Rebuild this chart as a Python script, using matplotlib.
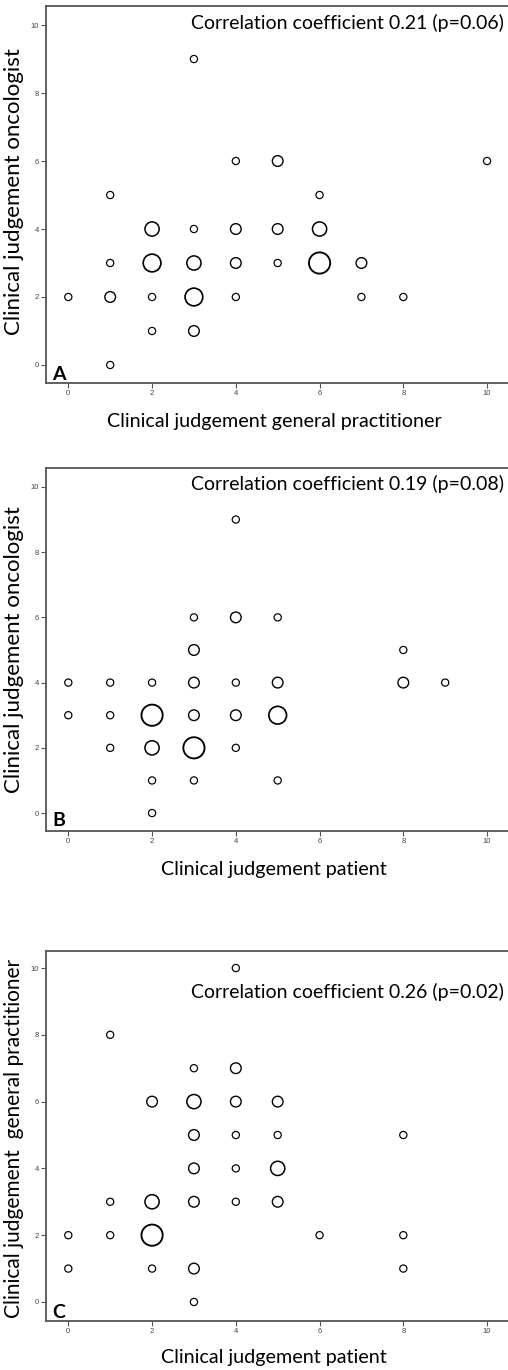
import matplotlib
matplotlib.use("Agg")
import matplotlib.pyplot as plt
import numpy as np

# ---------------- data ----------------
# Panel A: x = GP judgement, y = oncologist judgement, n = number of patients
a_x = [0, 1, 1, 1, 1, 2, 2, 2, 2, 3, 3, 3, 3, 3, 4, 4, 4, 4, 5, 5, 5, 6, 6, 6, 7, 7, 8, 10]
a_y = [2, 5, 3, 2, 0, 4, 3, 2, 1, 9, 4, 3, 2, 1, 6, 4, 3, 2, 6, 4, 3, 5, 4, 3, 3, 2, 2, 6]
a_n = [1, 1, 1, 2, 1, 3, 4, 1, 1, 1, 1, 3, 4, 2, 1, 2, 2, 1, 2, 2, 1, 1, 3, 5, 2, 1, 1, 1]

# Panel B: x = patient judgement, y = oncologist judgement
b_x = [0, 0, 1, 1, 1, 2, 2, 2, 2, 2, 3, 3, 3, 3, 3, 3, 4, 4, 4, 4, 4, 5, 5, 5, 5, 8, 8, 9]
b_y = [4, 3, 4, 3, 2, 4, 3, 2, 1, 0, 6, 5, 4, 3, 2, 1, 9, 6, 4, 3, 2, 6, 4, 3, 1, 5, 4, 4]
b_n = [1, 1, 1, 1, 1, 1, 5, 3, 1, 1, 1, 2, 2, 2, 5, 1, 1, 2, 1, 2, 1, 1, 2, 4, 1, 1, 2, 1]

# Panel C: x = patient judgement, y = GP judgement
c_x = [0, 0, 1, 1, 1, 2, 2, 2, 2, 3, 3, 3, 3, 3, 3, 3, 4, 4, 4, 4, 4, 4, 5, 5, 5, 5, 6, 8, 8, 8]
c_y = [2, 1, 8, 3, 2, 6, 3, 2, 1, 7, 6, 5, 4, 3, 1, 0, 10, 7, 6, 5, 4, 3, 6, 5, 4, 3, 2, 5, 2, 1]
c_n = [1, 1, 1, 1, 1, 2, 3, 5, 1, 1, 3, 2, 2, 2, 2, 1, 1, 2, 2, 1, 1, 1, 2, 1, 3, 2, 1, 1, 1, 1]

ticks = [0, 2, 4, 6, 8, 10]
tick_labels = ["0", "2", "4", "6", "8", "10"]

a_xlabel = "Clinical judgement general practitioner"
a_ylabel = "Clinical judgement oncologist"
b_xlabel = "Clinical judgement patient"
b_ylabel = "Clinical judgement oncologist"
c_xlabel = "Clinical judgement patient"
c_ylabel = "Clinical judgement  general practitioner"

a_note = "Correlation coefficient 0.21 (p=0.06)"
b_note = "Correlation coefficient 0.19 (p=0.08)"
c_note = "Correlation coefficient 0.26 (p=0.02)"
letters = ["A", "B", "C"]

# ---------------- layout ----------------
W, H = 508, 1370
DPI = 100
fig = plt.figure(figsize=(W / DPI, H / DPI), dpi=DPI)
FONT = ["Lato", "DejaVu Sans"]
TICKFONT = ["Liberation Sans", "DejaVu Sans"]


def fx(px):
    return px / W


def fy(py):
    return 1 - py / H


def make_axes(top_px, bottom_px, ylim):
    left_px = 45.7
    ax = fig.add_axes([fx(left_px), fy(bottom_px), 1 - fx(left_px), (bottom_px - top_px) / H])
    ax.set_xlim(-0.54, 10.5)
    ax.set_ylim(*ylim)
    for s in ["top", "left", "bottom"]:
        ax.spines[s].set_color("#555555")
        ax.spines[s].set_linewidth(1.3)
    ax.spines["right"].set_visible(False)
    ax.set_xticks(ticks)
    ax.set_xticklabels(tick_labels)
    ax.set_yticks(ticks)
    ax.set_yticklabels(tick_labels)
    ax.tick_params(axis="both", direction="out", length=3.5, width=0.8, color="#555555",
                   labelsize=5.5, labelcolor="#444444", pad=1.5)
    for lab in ax.get_xticklabels() + ax.get_yticklabels():
        lab.set_family(TICKFONT)
    return ax


def bubbles(ax, x, y, n):
    n = np.asarray(n, dtype=float)
    d_px = 3.7 + 3.5 * n
    d_pt = d_px * 72 / DPI
    lw = 0.75 + 0.12 * n
    ax.scatter(x, y, s=d_pt ** 2, facecolors="white", edgecolors="black",
               linewidths=lw, zorder=3, clip_on=False)


panels = [
    (6, 383, (-0.53, 10.56), a_x, a_y, a_n, a_xlabel, a_ylabel, a_note, 23, 422, 374, 16, 192),
    (468, 831, (-0.55, 10.58), b_x, b_y, b_n, b_xlabel, b_ylabel, b_note, 484, 870, 820, 16, 650),
    (951, 1321, (-0.57, 10.51), c_x, c_y, c_n, c_xlabel, c_ylabel, c_note, 992, 1357, 1312, 15, 1138),
]

for i, (top, bot, ylim, x, y, n, xl, yl, note, note_y, xlab_y, let_y, yl_fs, yl_y) in enumerate(panels):
    ax = make_axes(top, bot, ylim)
    bubbles(ax, x, y, n)
    fig.text(fx(274), fy(xlab_y), xl, ha="center", va="center", fontsize=14.2,
             family=FONT, color="black")
    fig.text(fx(14), fy(yl_y), yl, ha="center", va="center", rotation=90,
             fontsize=yl_fs, family=FONT, color="black")
    fig.text(fx(504), fy(note_y), note, ha="right", va="center", fontsize=14,
             family=FONT, color="black")
    fig.text(fx(52), fy(let_y), letters[i], ha="left", va="center", fontsize=14,
             fontweight="bold", family=FONT, color="black")

fig.savefig("out.png", dpi=DPI, facecolor="white")
